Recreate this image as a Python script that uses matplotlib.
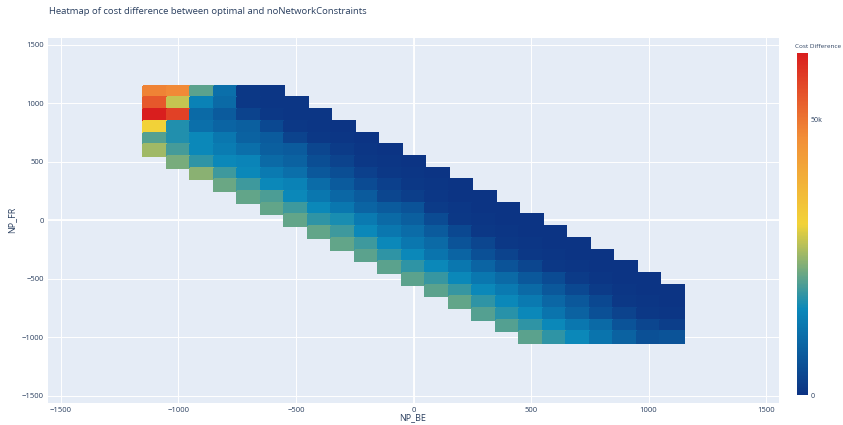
import numpy as np
import matplotlib
matplotlib.use("Agg")
import matplotlib.pyplot as plt
from matplotlib.colors import LinearSegmentedColormap

# Grid of NP_BE (x) and NP_FR (y) cell centres
np_be = np.arange(-1100, 1101, 100)
np_fr = np.arange(1100, -1001, -100)  # top row first

# Cost difference (thousands), one list per NP_FR row, starting at column row_start
row_start = [0, 0, 0, 0, 0, 0, 1, 2, 3, 4, 5, 6, 7, 8, 9, 10, 11, 12, 13, 14, 15, 16]
cost_k = [
    [48, 47, 21, 11, 1, 0.5],
    [54, 28, 14.5, 10, 1, 0.5, 0.5],
    [62, 57, 10, 7.5, 3, 1, 0.5, 0.5],
    [31, 17, 11, 9, 8, 4, 1, 0.5, 0.3],
    [20.5, 17, 15.5, 12.5, 8.5, 7.5, 3, 1, 0.5, 0.3],
    [25.5, 19.5, 15.5, 13.5, 11, 8, 7.5, 3.5, 1.5, 0.5, 0.3],
    [23, 18, 15.5, 15, 10, 8.5, 5, 3, 1, 0.5, 0.3],
    [24, 19, 15.5, 13, 11, 7, 5, 2.5, 1, 0.5, 0.3],
    [22, 19, 15.5, 14.5, 10.5, 7.5, 4.5, 2.5, 1, 0.5, 0.3],
    [21.5, 20, 15.5, 12.5, 9.5, 7.5, 3.5, 2, 0.8, 0.4, 0.3],
    [21.5, 19, 15.5, 12.5, 9, 7.5, 6, 1.5, 0.8, 0.4, 0.3],
    [21.5, 18, 16.5, 13, 10, 8, 4.5, 1, 0.5, 0.4, 0.3],
    [21.5, 19, 15.5, 12.5, 10.5, 7.5, 4, 1, 0.5, 0.4, 0.3],
    [21.5, 19, 15.5, 12.5, 10, 6, 3.5, 1, 0.5, 0.4, 0.3],
    [21, 18, 15.5, 12, 9, 5.5, 3, 1, 0.5, 0.4, 0.3],
    [21, 18, 15.5, 12.5, 9, 6, 3.5, 1, 0.5, 0.4, 0.3],
    [21, 18.5, 15.5, 12.5, 10, 7, 4.5, 1.5, 0.5, 0.4, 0.3],
    [21, 18.5, 15.5, 13, 10, 7, 4, 1.5, 0.5, 0.4, 0.3],
    [21.5, 18, 15.5, 13, 9.5, 7, 4, 1, 0.5, 0.3],
    [20.5, 17.5, 15.5, 12, 8.5, 5.5, 3, 1, 0.5],
    [20.5, 18, 15.5, 12.5, 10, 6, 3.5, 2],
    [21, 18, 15.5, 12, 8.5, 5.5, 6],
]

# build the masked grid
z = np.full((len(np_fr), len(np_be)), np.nan)
for j, (s, vals) in enumerate(zip(row_start, cost_k)):
    z[j, s:s + len(vals)] = np.array(vals) * 1000
z = np.ma.masked_invalid(z)

# plotly "Portland" colorscale
portland = LinearSegmentedColormap.from_list(
    "portland",
    [(0.0, (12/255, 51/255, 131/255)),
     (0.25, (10/255, 136/255, 186/255)),
     (0.5, (242/255, 211/255, 56/255)),
     (0.75, (242/255, 143/255, 56/255)),
     (1.0, (217/255, 30/255, 30/255))])

plt.rcParams["font.family"] = ["Open Sans", "DejaVu Sans"]
txt = "#2a3f5f"
W, H = 843, 425
fig = plt.figure(figsize=(W / 100, H / 100), dpi=100)
ax = fig.add_axes([48 / W, 1 - 403 / H, (779 - 48) / W, (403 - 38) / H])
ax.set_facecolor("#E5ECF6")

x_edges = np.append(np_be - 50, np_be[-1] + 50)
y_edges = np.append(np_fr + 50, np_fr[-1] - 50)
mesh = ax.pcolormesh(x_edges, y_edges, z, cmap=portland, vmin=0, vmax=z.max(),
                     shading="flat", edgecolors="face", linewidth=0.2, zorder=2)

ticks = [-1500, -1000, -500, 0, 500, 1000, 1500]
ax.set_xticks(ticks)
ax.set_yticks(ticks)
ax.set_xlim(-1555, 1555)
ax.set_ylim(-1562, 1558)
ax.grid(True, color="white", linewidth=0.7, zorder=0)
ax.axvline(0, color="white", linewidth=1.3, zorder=1)
ax.axhline(0, color="white", linewidth=1.3, zorder=1)
ax.set_axisbelow(True)
for sp in ax.spines.values():
    sp.set_visible(False)
ax.tick_params(length=0, labelsize=5.5, labelcolor=txt, pad=3)
fig.text(12 / W, 1 - 220 / H, "NP_FR", fontsize=6.5, color=txt, rotation=90,
         ha="center", va="center")
fig.text(413 / W, 1 - 418 / H, "NP_BE", fontsize=6.5, color=txt, ha="center", va="center")

fig.text(49 / W, 1 - 11 / H, "Heatmap of cost difference between optimal and noNetworkConstraints",
         fontsize=6.8, color=txt, ha="left", va="center")

# colorbar
cax = fig.add_axes([797 / W, 1 - 395 / H, 11 / W, (395 - 53) / H])
cb = fig.colorbar(mesh, cax=cax, ticks=[0, 50000])
cb.ax.set_yticklabels(["0", "50k"])
cb.outline.set_visible(False)
cb.ax.tick_params(length=0, labelsize=5, labelcolor=txt, pad=2)
fig.text(795 / W, 1 - 47 / H, "Cost Difference", fontsize=4.6, color=txt, ha="left", va="center")

fig.savefig("out.png", dpi=100)
